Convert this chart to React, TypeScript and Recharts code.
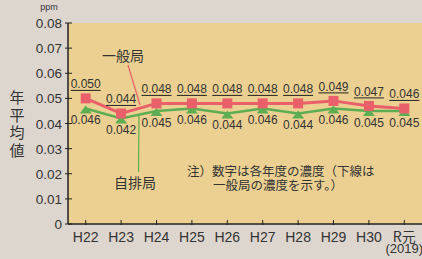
import { ComposedChart, Line, XAxis, YAxis, CartesianGrid, LabelList } from 'recharts';

const years = ['H22', 'H23', 'H24', 'H25', 'H26', 'H27', 'H28', 'H29', 'H30', 'R元'];
const ippanValues = [0.05, 0.044, 0.048, 0.048, 0.048, 0.048, 0.048, 0.049, 0.047, 0.046];
const jihaiValues = [0.046, 0.042, 0.045, 0.046, 0.044, 0.046, 0.044, 0.046, 0.045, 0.045];
const yTicks = [0, 0.01, 0.02, 0.03, 0.04, 0.05, 0.06, 0.07, 0.08];

const data = years.map((year, i) => ({ year, ippan: ippanValues[i], jihai: jihaiValues[i] }));

const RED = '#e9606b';
const GREEN = '#5dad52';
const TEXT = '#333';
const LATIN = '"Liberation Sans", Arial, sans-serif';
const CJK = '"Noto Sans CJK JP", sans-serif';

function YTick({ x, y, payload }: any) {
  const v = payload.value as number;
  return (
    <g>
      <line x1={x - 3} x2={x + 4} y1={y} y2={y} stroke="#222" strokeWidth={1} />
      <text x={x - 6} y={y + 5} textAnchor="end" fontSize={13.5} fill={TEXT} fontFamily={LATIN}>
        {v === 0 ? '0' : v.toFixed(2)}
      </text>
    </g>
  );
}

function XTick({ x, y, payload }: any) {
  const label = payload.value as string;
  return (
    <g>
      <line x1={x} x2={x} y1={y - 4} y2={y + 1} stroke="#222" strokeWidth={1} />
      <text x={x} y={y + 18} textAnchor="middle" fontSize={14} fill={TEXT} fontFamily={label === 'R元' ? CJK : LATIN}>
        {label}
      </text>
      {label === 'R元' && (
        <text x={x} y={y + 29} textAnchor="middle" fontSize={13} fill={TEXT} fontFamily={LATIN}>
          (2019)
        </text>
      )}
    </g>
  );
}

function SquareDot({ cx, cy }: any) {
  return <rect x={cx - 5} y={cy - 5} width={10} height={10} fill={RED} />;
}

function TriangleDot({ cx, cy }: any) {
  return <polygon points={`${cx},${cy - 3} ${cx - 6},${cy + 5} ${cx + 6},${cy + 5}`} fill={GREEN} />;
}

function UpperLabel({ x, y, value }: any) {
  return (
    <g>
      <text x={x} y={y - 10} textAnchor="middle" fontSize={12} fill={TEXT} fontFamily={LATIN}>
        {(value as number).toFixed(3)}
      </text>
      <line x1={x - 15} x2={x + 15} y1={y - 8} y2={y - 8} stroke="#222" strokeWidth={1} />
    </g>
  );
}

function LowerLabel({ x, y, value }: any) {
  return (
    <text x={x} y={y + 16} textAnchor="middle" fontSize={12} fill={TEXT} fontFamily={LATIN}>
      {(value as number).toFixed(3)}
    </text>
  );
}

export default function App() {
  return (
    <div style={{ position: 'absolute', left: 0, top: 0, width: 422, height: 259, background: '#ddd6ce', overflow: 'hidden' }}>
      <ComposedChart width={422} height={259} data={data} margin={{ top: 23, right: 0, bottom: 0, left: 0 }}>
        <CartesianGrid fill="#ebd091" stroke="none" horizontal={false} vertical={false} />
        <XAxis
          dataKey="year"
          scale="band"
          height={35}
          tickSize={0}
          tickMargin={0}
          interval={0}
          axisLine={{ stroke: '#222', strokeWidth: 1.5 }}
          tick={<XTick />}
        />
        <YAxis
          width={68}
          domain={[0, 0.08]}
          ticks={yTicks}
          tickSize={0}
          tickMargin={0}
          axisLine={{ stroke: '#222', strokeWidth: 1.5 }}
          tick={<YTick />}
        />
        <Line
          dataKey="jihai"
          stroke={GREEN}
          strokeWidth={2.5}
          dot={<TriangleDot />}
          activeDot={false}
          isAnimationActive={false}
        >
          <LabelList dataKey="jihai" content={<LowerLabel />} />
        </Line>
        <Line
          dataKey="ippan"
          stroke={RED}
          strokeWidth={3}
          dot={<SquareDot />}
          activeDot={false}
          isAnimationActive={false}
        >
          <LabelList dataKey="ippan" content={<UpperLabel />} />
        </Line>
      </ComposedChart>
      <svg width={422} height={259} style={{ position: 'absolute', left: 0, top: 0, pointerEvents: 'none' }}>
        <text x={49} y={10} textAnchor="middle" fontSize={9} fill={TEXT} fontFamily={LATIN}>ppm</text>
        {['年', '平', '均', '値'].map((c, i) => (
          <text key={c} x={17} y={103 + i * 17.5} textAnchor="middle" fontSize={15} fill={TEXT} fontFamily={CJK}>
            {c}
          </text>
        ))}
        <line x1={128} y1={65} x2={140} y2={105} stroke={RED} strokeWidth={1.2} />
        <text x={123} y={61} textAnchor="middle" fontSize={14} fill={TEXT} fontFamily={CJK}>一般局</text>
        <line x1={139} y1={115} x2={138.5} y2={172} stroke={GREEN} strokeWidth={1.2} />
        <text x={135} y={188} textAnchor="middle" fontSize={14} fill={TEXT} fontFamily={CJK}>自排局</text>
        <text x={187} y={176} fontSize={12.5} fill={TEXT} fontFamily={CJK}>注）数字は各年度の濃度（下線は</text>
        <text x={213} y={190} fontSize={12.5} fill={TEXT} fontFamily={CJK}>一般局の濃度を示す。）</text>
      </svg>
    </div>
  );
}
